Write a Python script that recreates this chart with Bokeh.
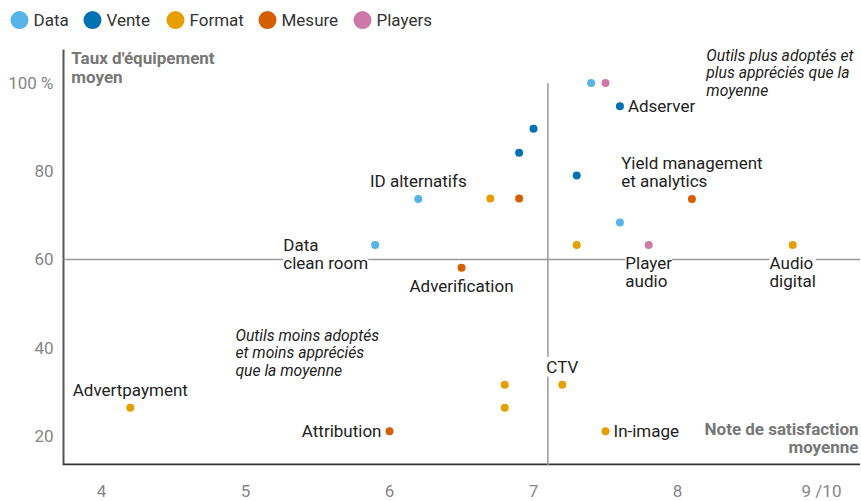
from bokeh.plotting import figure
from bokeh.models import ColumnDataSource, Range1d, FixedTicker, LabelSet, Label
from bokeh.embed import file_html
from bokeh.resources import INLINE
from bokeh.core.properties import value

# ---------------- data ----------------
categories = ["Data", "Vente", "Format", "Mesure", "Players"]
cat_colors = ["#56B4E9", "#0072B2", "#E69F00", "#D55E00", "#CC79A7"]

tool_category = ["Data", "Data", "Data", "Data",
                 "Vente", "Vente", "Vente", "Vente",
                 "Format", "Format", "Format", "Format", "Format", "Format", "Format", "Format",
                 "Mesure", "Mesure", "Mesure", "Mesure",
                 "Players", "Players"]
satisfaction = [5.9, 6.2, 7.4, 7.6,
                7.6, 7.0, 6.9, 7.3,
                6.7, 7.3, 8.8, 4.2, 6.8, 6.8, 7.2, 7.5,
                6.9, 8.1, 6.5, 6.0,
                7.5, 7.8]
equipment = [63.3, 73.7, 100.0, 68.4,
             94.7, 89.6, 84.2, 79.0,
             73.8, 63.3, 63.3, 26.4, 31.6, 26.4, 31.6, 21.1,
             73.8, 73.7, 58.1, 21.1,
             100.0, 63.3]
tool_label = ["Data\nclean room", "ID alternatifs", "", "",
              "Adserver", "", "", "",
              "", "", "Audio\ndigital", "Advertpayment", "", "", "CTV", "In-image",
              "", "Yield management\net analytics", "Adverification", "Attribution",
              "", "Player\naudio"]
label_side = ["leftlow", "above", "", "",
              "right", "", "", "",
              "", "", "below", "above", "", "", "above", "right",
              "", "above", "below", "left",
              "", "below"]

avg_satisfaction = 7.1
avg_equipment = 60

x_ticks = [4, 5, 6, 7, 8, 9]
x_tick_labels = ["4", "5", "6", "7", "8", "9 /10"]
y_ticks = [20, 40, 60, 80, 100]
y_tick_labels = ["20", "40", "60", "80", "100 %"]

y_title = "Taux d'équipement\nmoyen"
x_title = "Note de satisfaction\nmoyenne"
quad_high = "Outils plus adoptés et\nplus appréciés que la\nmoyenne"
quad_low = "Outils moins adoptés\net moins appréciés\nque la moyenne"

# ---------------- layout ----------------
FONT = "Roboto"
FS = "17px"
W, H = 860, 503
MB = 29                      # room for the x tick labels
PX_X, PX_Y = 144.0, 4.5      # pixels per data unit
AX_LEFT_PX, AX_TOP_PX = 63, 50
ax_x = 3.736                 # data x where the y axis sits
ax_top = 107.55              # data y where the y axis starts
x_start = ax_x - AX_LEFT_PX / PX_X
y_end = ax_top + AX_TOP_PX / PX_Y
y_start = y_end - (H - MB) / PX_Y
x_end = x_start + W / PX_X

def px_to_x(px):
    return x_start + px / PX_X

def py_to_y(py):
    return y_end - py / PX_Y

# legend strip (canvas pixels)
legend_cx = [19, 92, 175, 267, 362]
legend_text_dx = 14
legend_cy = 20

side_style = {
    "above": (0, 8, "center", "bottom"),
    "below": (0, -8, "center", "top"),
    "right": (8, 0, "left", "middle"),
    "left": (-8, 0, "right", "middle"),
    "leftlow": (-7, 10, "right", "top"),
}

lx, ly, lt, xo, yo, al, bl = [], [], [], [], [], [], []
for x, y, t, s in zip(satisfaction, equipment, tool_label, label_side):
    if t:
        st = side_style[s]
        lx.append(x); ly.append(y); lt.append(t)
        xo.append(st[0]); yo.append(st[1]); al.append(st[2]); bl.append(st[3])
lab_src = ColumnDataSource(dict(x=lx, y=ly, text=lt, xo=xo, yo=yo, align=al, base=bl))

# ---------------- figure ----------------
p = figure(width=W, height=H,
           x_range=Range1d(x_start, x_end), y_range=Range1d(y_start, y_end),
           output_backend="svg", toolbar_location=None, y_axis_location=None,
           min_border_left=0, min_border_right=0, min_border_top=0, min_border_bottom=MB)
p.outline_line_color = None
p.grid.visible = False
p.background_fill_color = "white"

p.xaxis.ticker = FixedTicker(ticks=x_ticks)
p.xaxis.major_label_overrides = {t: l for t, l in zip(x_ticks, x_tick_labels)}
p.xaxis.major_tick_line_color = None
p.xaxis.minor_tick_line_color = None
p.xaxis.major_label_text_font = FONT
p.xaxis.major_label_text_font_size = FS
p.xaxis.major_label_text_color = "#858585"
p.xaxis.major_label_standoff = 9
p.xaxis.axis_line_color = None

# axis lines
p.segment(x0=[ax_x], y0=[y_start], x1=[ax_x], y1=[ax_top],
          line_color="#555555", line_width=2)
p.segment(x0=[ax_x], y0=[y_start + 1 / PX_Y], x1=[x_end], y1=[y_start + 1 / PX_Y],
          line_color="#333333", line_width=2)

# y tick labels
p.text(x=[ax_x] * len(y_ticks), y=y_ticks, text=y_tick_labels, x_offset=-10,
       text_align="right", text_baseline="middle", text_font=value(FONT),
       text_font_size=FS, text_color="#858585")

# average lines
p.segment(x0=[avg_satisfaction], y0=[0], x1=[avg_satisfaction], y1=[100],
          line_color="#9a9a9a", line_width=1.5)
p.segment(x0=[ax_x], y0=[avg_equipment], x1=[x_end + 1], y1=[avg_equipment],
          line_color="#9a9a9a", line_width=1.5)

# points
for cat, col in zip(categories, cat_colors):
    xs = [x for x, c in zip(satisfaction, tool_category) if c == cat]
    ys = [y for y, c in zip(equipment, tool_category) if c == cat]
    p.scatter(x=xs, y=ys, size=8, line_color=None, fill_color=col)

# legend strip
leg_src = ColumnDataSource(dict(
    x=[px_to_x(c) for c in legend_cx],
    tx=[px_to_x(c + legend_text_dx) for c in legend_cx],
    y=[py_to_y(legend_cy)] * len(categories),
    cat=categories, col=cat_colors))
p.scatter(x="x", y="y", source=leg_src, size=18, fill_color="col", line_color=None)
p.text(x="tx", y="y", text="cat", source=leg_src, text_align="left", text_baseline="middle",
       text_font=value(FONT), text_font_size=FS, text_color="#333333")

labels = LabelSet(x="x", y="y", text="text", source=lab_src,
                  x_offset="xo", y_offset="yo", text_align="align", text_baseline="base",
                  text_font=value(FONT), text_font_size=FS, text_color="#222222",
                  text_line_height=0.90, background_fill_color="white")
p.add_layout(labels)

p.add_layout(Label(x=3.79, y=108.0, text=y_title, text_align="left", text_baseline="top",
                   text_font=FONT, text_font_size=FS, text_font_style="bold",
                   text_color="#777777", text_line_height=0.985))
p.add_layout(Label(x=x_end, x_offset=-2, y=23.85, text=x_title, text_align="right",
                   text_baseline="top",
                   text_font=FONT, text_font_size=FS, text_font_style="bold",
                   text_color="#777777", text_line_height=0.92))
p.add_layout(Label(x=8.20, y=108.33, text=quad_high, text_align="left", text_baseline="top",
                   text_font=FONT, text_font_size="15.7px", text_font_style="italic",
                   text_color="#222222", text_line_height=0.915))
p.add_layout(Label(x=4.93, y=44.9, text=quad_low, text_align="left", text_baseline="top",
                   text_font=FONT, text_font_size="15.7px", text_font_style="italic",
                   text_color="#222222", text_line_height=0.915))

open("out.html", "w").write(file_html(p, INLINE))
